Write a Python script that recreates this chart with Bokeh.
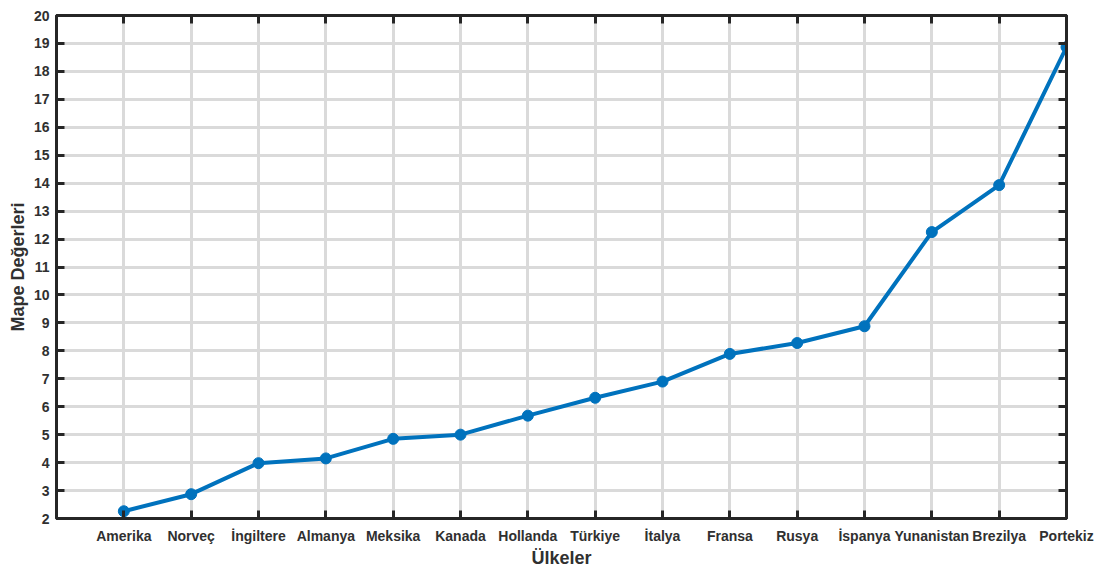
from bokeh.plotting import figure
from bokeh.models import FixedTicker, LinearAxis, Range1d
from bokeh.embed import file_html
from bokeh.resources import INLINE

countries = ["Amerika", "Norveç", "İngiltere", "Almanya", "Meksika", "Kanada", "Hollanda",
             "Türkiye", "İtalya", "Fransa", "Rusya", "İspanya", "Yunanistan", "Brezilya", "Portekiz"]
mape = [2.26, 2.87, 3.98, 4.15, 4.85, 5.00, 5.68, 6.32, 6.90, 7.89, 8.28, 8.88, 12.25, 13.93, 18.87]
y_ticks = list(range(2, 21))

xs = list(range(1, len(countries) + 1))
FONT = "Liberation Sans"
TXT = "#303030"
AX = "#262626"

p = figure(width=1098, height=570, output_backend="svg", toolbar_location=None,
           x_range=Range1d(0, 15), y_range=Range1d(2, 20),
           min_border_left=56, min_border_top=15, min_border_right=32, min_border_bottom=51)
p.background_fill_color = "white"
p.border_fill_color = "white"
p.outline_line_color = AX
p.outline_line_width = 3

p.xaxis.ticker = FixedTicker(ticks=xs)
p.xaxis.major_label_overrides = {i: c for i, c in zip(xs, countries)}
p.yaxis.ticker = FixedTicker(ticks=y_ticks)

for ax in [p.xaxis[0], p.yaxis[0]]:
    ax.axis_line_width = 3
    ax.axis_line_color = AX
    ax.major_tick_line_width = 3
    ax.major_tick_line_color = AX
    ax.major_tick_in = 8
    ax.major_tick_out = 0
    ax.minor_tick_line_color = None
    ax.major_label_text_font = FONT
    ax.major_label_text_font_style = "bold"
    ax.major_label_text_font_size = "14px"
    ax.major_label_text_color = TXT
    ax.axis_label_text_font = FONT
    ax.axis_label_text_font_style = "bold"
    ax.axis_label_text_font_size = "18px"
    ax.axis_label_text_color = TXT

p.xaxis.axis_label = "Ülkeler"
p.yaxis.axis_label = "Mape Değerleri"
p.xaxis.major_label_standoff = 9
p.xaxis.axis_label_standoff = 1
p.yaxis.major_label_standoff = 7
p.yaxis.axis_label_standoff = 3


def blank_axis(ticks):
    return LinearAxis(ticker=FixedTicker(ticks=ticks),
                      major_label_overrides={t: "" for t in ticks},
                      axis_line_width=3, axis_line_color=AX, major_tick_line_width=3,
                      major_tick_line_color=AX, major_tick_in=8, major_tick_out=0,
                      minor_tick_line_color=None, major_label_standoff=0)


p.add_layout(blank_axis(xs), "above")
p.add_layout(blank_axis(y_ticks), "right")

p.xgrid.ticker = FixedTicker(ticks=xs)
p.ygrid.ticker = FixedTicker(ticks=y_ticks)
p.grid.grid_line_color = "#dadada"
p.grid.grid_line_width = 3

p.line(xs, mape, line_color="#0072BD", line_width=4)
p.scatter(xs, mape, size=11, fill_color="#0072BD", line_color="#0072BD")

open("out.html", "w").write(file_html(p, INLINE))
